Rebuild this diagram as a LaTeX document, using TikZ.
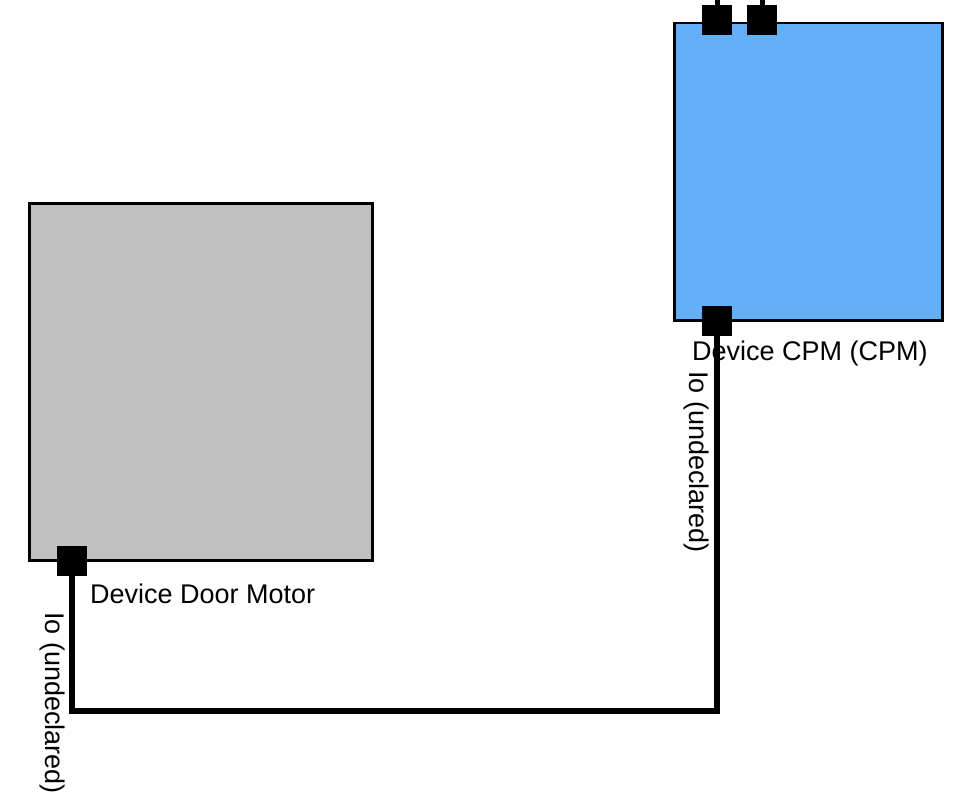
\documentclass[tikz,border=0pt]{standalone}
\usepackage{fontspec}
\setmainfont{Liberation Sans}
\usetikzlibrary{positioning}
\definecolor{cpmblue}{HTML}{64B0F8}
\definecolor{motorgray}{HTML}{C0C0C0}
\tikzset{
  device/.style={draw=black, line width=2.5pt, inner sep=0pt, anchor=north west},
  port/.style={fill=black, minimum size=30pt, inner sep=0pt},
  wire/.style={line width=5.5pt},
  lbl/.style={font=\fontsize{27}{32}\selectfont, inner sep=0pt}
}

\begin{document}
\begin{tikzpicture}[x=1pt,y=-1pt]
\useasboundingbox (0,0) rectangle (973,800);
% devices
\node[device, fill=motorgray, minimum width=343pt, minimum height=357pt] (motor) at (28,202) {};
\node[device, fill=cpmblue, minimum width=268pt, minimum height=297pt] (cpm) at (673,22) {};
% ports
\node[port] (cpmtopa) at (717,20.5) {};
\node[port] (cpmtopb) at (762,20.5) {};
\node[port] (cpmio) at (717,320.5) {};
\node[port] (motorio) at (72,560.5) {};
\coordinate (stuba) at (717,0);
\coordinate (stubb) at (762,0);
\draw[line width=5pt] (cpmtopa.north) -- (stuba);
\draw[line width=5pt] (cpmtopb.north) -- (stubb);
% wire
\coordinate (bend) at (717,711);
\draw[wire] (cpmio.south) -- (bend) -| (motorio.south);
% labels
\node[lbl, anchor=west] (cpmname) at (692,354) {Device CPM (CPM)};
\node[lbl, anchor=west] (motorname) at (90,594) {Device Door Motor};
\node[lbl, rotate=-90] (cpmiolbl) at (696,462) {Io (undeclared)};
\node[lbl, rotate=-90] (motoriolbl) at (52,703) {Io (undeclared)};
\end{tikzpicture}
\end{document}
